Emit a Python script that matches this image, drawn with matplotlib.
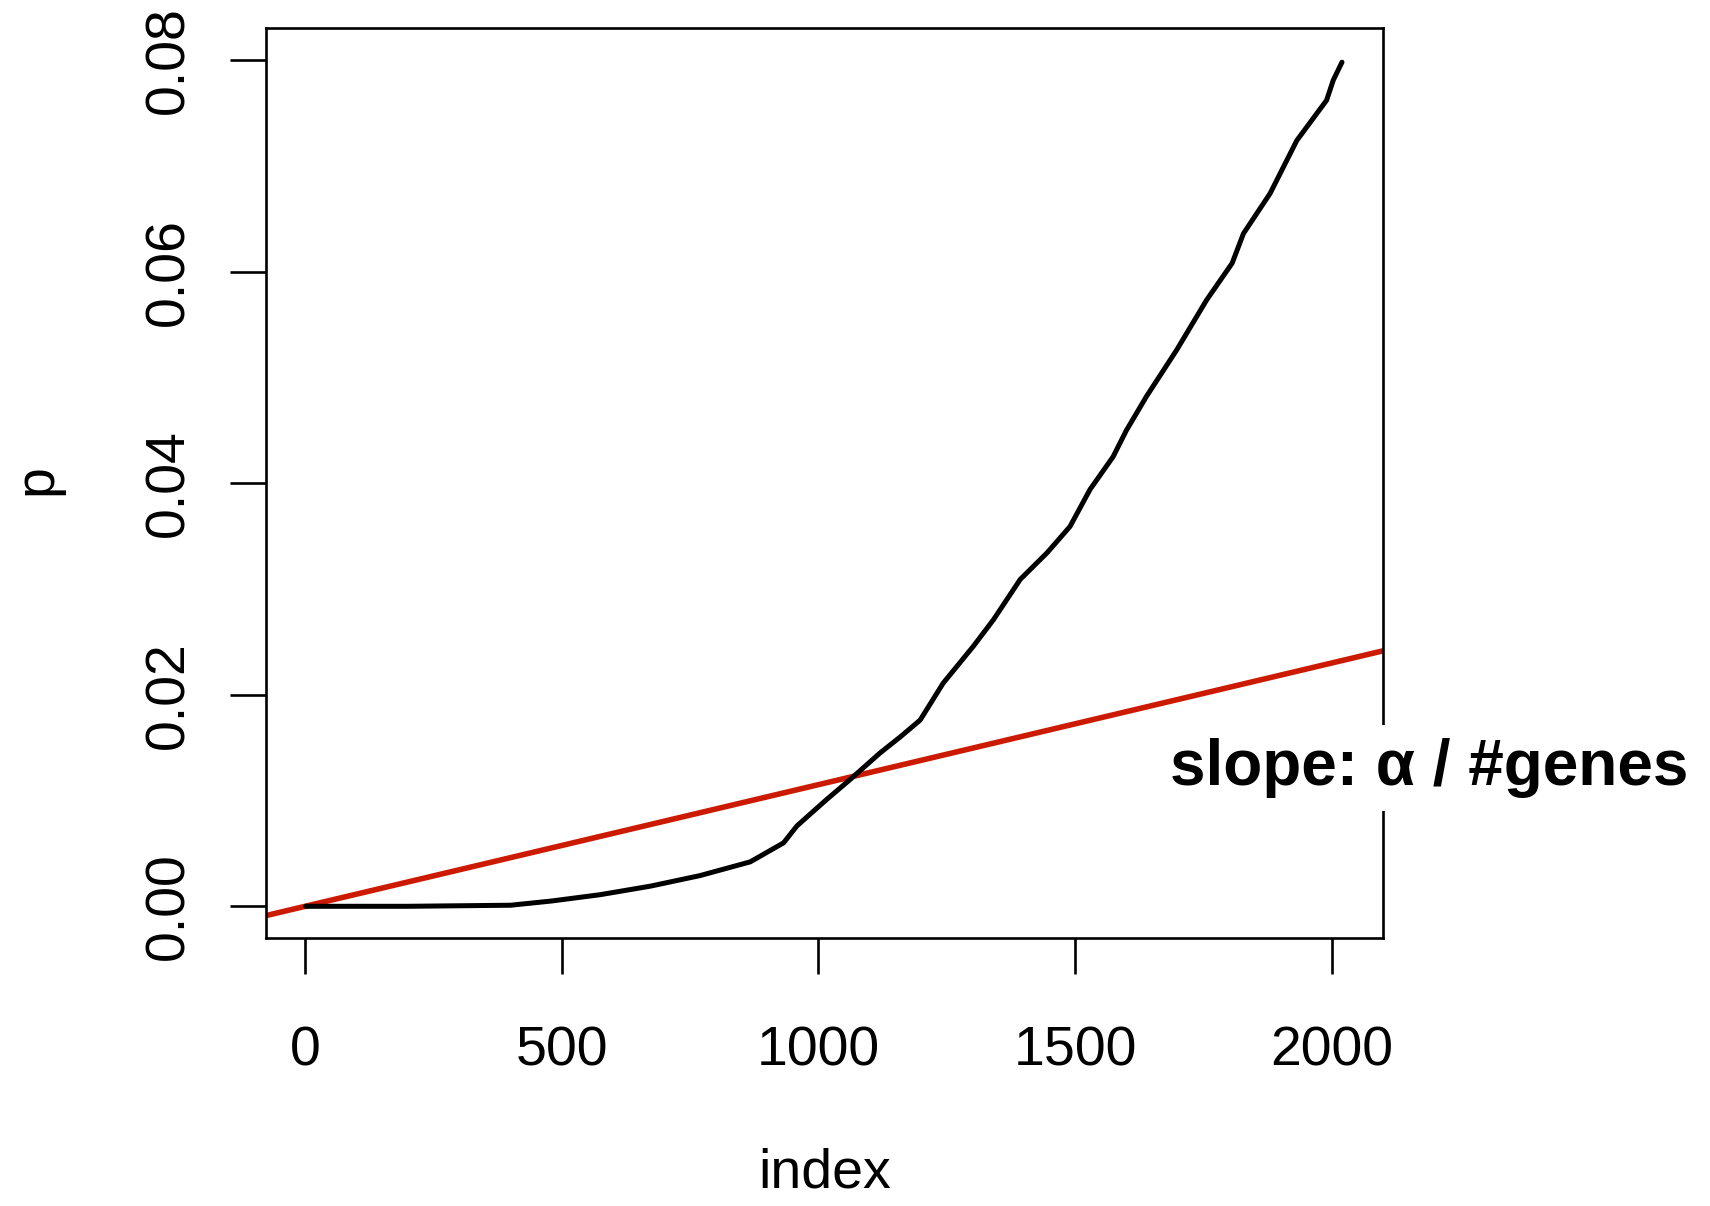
import numpy as np
import matplotlib
matplotlib.use('Agg')
import matplotlib.pyplot as plt

# sorted p-values (index, p)
index = [1, 200, 400, 480, 575, 672, 769, 867, 932, 958, 1016, 1062, 1120,
         1159, 1198, 1243, 1302, 1341, 1393, 1445, 1490, 1529, 1574, 1600,
         1639, 1698, 1756, 1806, 1828, 1880, 1932, 1990, 2003, 2020]
p = [0.0, 0.0, 0.0001, 0.0005, 0.0011, 0.0019, 0.0029, 0.0042, 0.0060,
     0.0076, 0.0101, 0.0120, 0.0145, 0.0160, 0.0176, 0.0211, 0.0246, 0.0271,
     0.0309, 0.0334, 0.0359, 0.0394, 0.0425, 0.0450, 0.0482, 0.0526, 0.0573,
     0.0608, 0.0636, 0.0674, 0.0724, 0.0762, 0.0781, 0.0798]

# threshold line: p = i * alpha / #genes
slope = 1.15e-5

xticks = [0, 500, 1000, 1500, 2000]
yticks = [0.00, 0.02, 0.04, 0.06, 0.08]

plt.rcParams['font.family'] = ['Liberation Sans', 'DejaVu Sans']

fig = plt.figure(figsize=(17.1, 12.06), dpi=100)
ax = fig.add_axes([0.1554, 0.2222, 0.8088 - 0.1554, 0.9765 - 0.2222])

ax.plot(index, p, color='black', lw=3.6, solid_capstyle='round',
        solid_joinstyle='round', zorder=3)
ax.axline((0, 0), slope=slope, color='#CC1A00', lw=4.0, zorder=2)

ax.set_xlim(-77, 2100)
ax.set_ylim(-0.003, 0.083)
ax.set_xticks(xticks)
ax.set_yticks(yticks)
ax.set_xticklabels([str(t) for t in xticks])
ax.set_yticklabels(['%.2f' % t for t in yticks], rotation=90, va='center')

for s in ax.spines.values():
    s.set_linewidth(1.9)
ax.tick_params(length=26, width=1.9, labelsize=40, direction='out')
ax.tick_params(axis='x', pad=37)
ax.tick_params(axis='y', pad=25)

ax.set_xlabel('index', fontsize=40, va='center')
ax.xaxis.set_label_coords(0.5, -0.259)
ax.set_ylabel('p', fontsize=40, va='center')
ax.yaxis.set_label_coords(-0.2047, 0.5035)

fig.text(0.8358, 0.3491, 'slope: \u03b1 / #genes', fontsize=46, fontweight='bold',
         ha='center', va='baseline',
         bbox=dict(boxstyle='square,pad=0.2', fc='white', ec='none'))

fig.savefig('out.png', dpi=100)
